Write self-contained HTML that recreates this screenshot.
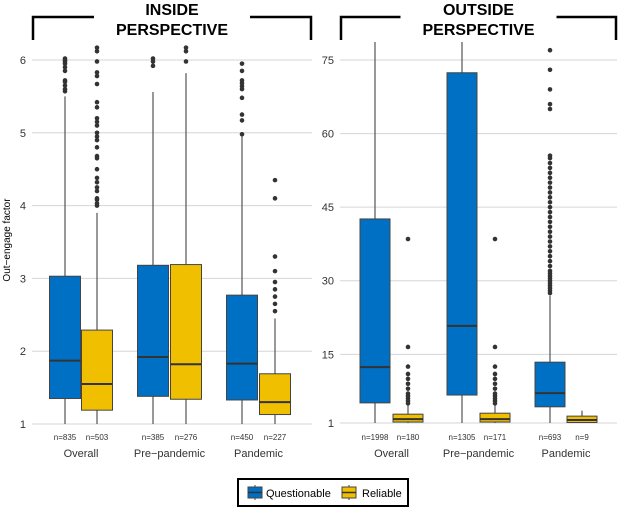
<!DOCTYPE html>
<html><head><meta charset="utf-8"><style>
body{margin:0;background:#fff;font-family:"Liberation Sans",sans-serif}
svg text{font-family:"Liberation Sans",sans-serif}
</style></head><body>
<svg id="chart" width="623" height="507" xmlns="http://www.w3.org/2000/svg"></svg>
<script>
const categories=["Overall","Pre\u2212pandemic","Pandemic"];
const groups=["Questionable","Reliable"];
// inside: [lowWhisker,q1,median,q3,highWhisker] per category: Q,R
const insideQ=[[1,1.35,1.87,3.03,5.5],[1,1.38,1.92,3.18,5.56],[1,1.33,1.83,2.77,4.95]];
const insideR=[[1,1.19,1.55,2.29,3.9],[1,1.34,1.82,3.19,5.82],[1,1.13,1.3,1.69,2.45]];
const insideQOut=[[5.57,5.6,5.65,5.7,5.72,5.85,5.9,5.95,5.98,6.0,6.02,6.3],[5.92,5.98,6.02,6.3],[4.98,5.17,5.25,5.48,5.6,5.64,5.68,5.72,5.85,5.95]];
const insideROut=[[4.0,4.03,4.08,4.1,4.2,4.25,4.32,4.38,4.5,4.65,4.68,4.8,4.9,4.95,5.0,5.1,5.15,5.2,5.35,5.42,5.67,5.78,5.83,5.98,6.12,6.17],[5.98,6.12,6.17],[2.55,2.65,2.75,2.85,2.95,3.1,3.3,4.1,4.35]];
const insideN=[["n=835","n=503"],["n=385","n=276"],["n=450","n=227"]];
const outsideQ=[[1,5.1,12.4,42.6,90],[1,6.7,20.8,72.4,90],[1,4.3,7.1,13.4,27]];
const outsideR=[[1,1.2,1.8,2.8,4.6],[1,1.2,1.8,3.0,4.6],[1,1.1,1.6,2.4,3.5]];
const outsideQOut=[[],[],[27.5,28,28.5,29,29.5,30,30.5,31,31.5,32,33,34,35,36,37,38,39,40,41,42,43,44,45,46,47,48,49,50,51,52,53,54,55,55.5,65,66,69,73,77]];
const outsideROut=[[5,5.5,6,6.5,7,8,9,10,11,12.5,16.5,38.5],[5,5.5,6,6.5,7,8,9,10,11,12.5,16.5,38.5],[]];
const outsideN=[["n=1998","n=180"],["n=1305","n=171"],["n=693","n=9"]];
const insideTicks=[1,2,3,4,5,6];
const outsideTicks=[1,15,30,45,60,75];

const svg=document.getElementById('chart');
const NS="http://www.w3.org/2000/svg";
function el(t,a,p){const e=document.createElementNS(NS,t);for(const k in a)e.setAttribute(k,a[k]);(p||svg).appendChild(e);return e;}
const colors=["#0070c4","#f0c000"];

function panel(cfg){
  const g=el('g',{});
  
  
  const y=v=>cfg.y0+(v-cfg.vmin)*(cfg.y1-cfg.y0)/(cfg.vmax-cfg.vmin);
  const clipId=cfg.name+'-clip';
  const cp=el('clipPath',{id:clipId},g);el('rect',{x:cfg.x0,y:42,width:cfg.x1-cfg.x0,height:390},cp);
  cfg.ticks.forEach(t=>{
    const l=el('line',{x1:cfg.x0,x2:cfg.x1,y1:y(t),y2:y(t),stroke:'#d6d6d6','stroke-width':1},g);
    
    const tx=el('text',{x:cfg.x0-6,y:y(t)+4,'text-anchor':'end','font-size':11,fill:'#333'},g);tx.textContent=t;
    
  });
  const inner=el('g',{'clip-path':`url(#${clipId})`},g);
  const bw=cfg.bw;
  categories.forEach((c,i)=>{
    [cfg.q,cfg.r].forEach((data,j)=>{
      const s=data[i];const cx=cfg.cx[i][j];
      const bg=el('g',{},inner);
      
      el('line',{x1:cx,x2:cx,y1:y(s[0]),y2:y(s[4]),stroke:'#555','stroke-width':1.2},bg);
      el('rect',{x:cx-bw/2,y:y(s[3]),width:bw,height:y(s[1])-y(s[3]),fill:colors[j],stroke:'#444','stroke-width':1},bg);
      el('line',{x1:cx-bw/2,x2:cx+bw/2,y1:y(s[2]),y2:y(s[2]),stroke:'#333','stroke-width':2},bg);
      (j?cfg.ro:cfg.qo)[i].forEach(v=>{
        const p=el('circle',{cx:cx,cy:y(v),r:2.3,fill:'#333'},bg);
        
      });
      const nt=el('text',{x:cx,y:440,'text-anchor':'middle','font-size':8,fill:'#333'},g);nt.textContent=cfg.n[i][j];
      
    });
    const ct=el('text',{x:(cfg.cx[i][0]+cfg.cx[i][1])/2,y:457,'text-anchor':'middle','font-size':11,fill:'#333'},g);ct.textContent=c;
    
  });
  // bracket title
  const mid=(cfg.x0+cfg.x1)/2;
  el('path',{d:`M${cfg.x0+1},40 V17 H${mid-78} M${mid+78},17 H${cfg.x1-1} V40`,fill:'none',stroke:'#000','stroke-width':2.5},g);
  cfg.title.forEach((t,k)=>{const tt=el('text',{x:mid,y:15+k*20,'text-anchor':'middle','font-size':16,'font-weight':'bold',fill:'#000'},g);tt.textContent=t;
    });
}
panel({name:'inside-panel',x0:32,x1:312,y0:424,y1:60,vmin:1,vmax:6,ticks:insideTicks,bw:31,
  cx:[[65,97],[153,186],[242,275]],q:insideQ,r:insideR,qo:insideQOut,ro:insideROut,n:insideN,title:["INSIDE","PERSPECTIVE"]});
panel({name:'outside-panel',x0:340,x1:617,y0:423,y1:60,vmin:1,vmax:75,ticks:outsideTicks,bw:30,
  cx:[[375,408],[462,495],[550,582]],q:outsideQ,r:outsideR,qo:outsideQOut,ro:outsideROut,n:outsideN,title:["OUTSIDE","PERSPECTIVE"]});
const yt=el('text',{x:0,y:0,transform:'translate(10,240) rotate(-90)','text-anchor':'middle','font-size':10,fill:'#000'});
yt.textContent='Out\u2212engage factor';

// legend
const lg=el('g',{});

el('rect',{x:238,y:479,width:170,height:27,fill:'#fff',stroke:'#000','stroke-width':2},lg);
[[248,'Questionable',266],[342,'Reliable',362]].forEach((d,k)=>{
  const e=el('g',{},lg);
  
  el('line',{x1:d[0]+7,x2:d[0]+7,y1:485,y2:500,stroke:'#444'},e);
  el('rect',{x:d[0],y:487,width:14,height:11,fill:colors[k],stroke:'#444'},e);
  el('line',{x1:d[0],x2:d[0]+14,y1:492.5,y2:492.5,stroke:'#333','stroke-width':1.5},e);
  const t=el('text',{x:d[2],y:497,'font-size':11,fill:'#000'},e);t.textContent=d[1];
});
</script>
</body></html>
